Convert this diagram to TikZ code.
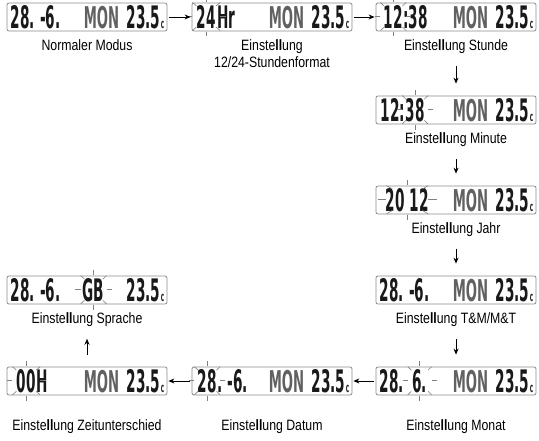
\documentclass[tikz,border=0pt]{standalone}
\usepackage{fontspec}
\setmainfont{Liberation Sans}[FakeStretch=0.82]
\newfontfamily\lcdface{DejaVu Sans}[FakeStretch=0.44]
\usetikzlibrary{arrows.meta}

% "Einstellung" as printed, with the heavy double l
\newcommand\einst{Einste{\bfseries ll}ung}

\tikzset{
  lcdwin/.style={draw=black!45, line width=0.8pt, rounded corners=2pt,
    minimum width=160pt, minimum height=28pt, inner sep=0pt, fill=white},
  seg/.style={font=\lcdface\bfseries\fontsize{31}{31}\selectfont, inner sep=0pt, text=black!90},
  thinseg/.style={font=\lcdface\bfseries\fontsize{30}{30}\selectfont, inner sep=0pt, text=black!62},
  unitseg/.style={font=\lcdface\bfseries\fontsize{13}{13}\selectfont, inner sep=0pt, text=black!85},
  caption/.style={font=\fontsize{15}{17}\selectfont, align=center, inner sep=0pt, anchor=north},
  ray/.style={draw=black!50, line width=0.6pt},
  flow/.style={draw, line width=0.9pt, -{Stealth[length=6pt,width=5pt]}},
  hflow/.style={flow, shorten <=2pt, shorten >=1pt},
  vflow/.style={flow, shorten <=12pt, shorten >=12pt},
}

% weekday and temperature on the right half of a display
\newcommand\montemp[1]{%
  \node[thinseg, anchor=base west] (#1mon) at ([xshift=77pt,yshift=-11pt]#1.west) {MON};
  \node[unitseg, anchor=base east] (#1unit) at ([xshift=-3pt,yshift=-11pt]#1.east) {c};
  \node[seg, anchor=base east] (#1temp) at (#1unit.base west) {23.5};
}
% flashing marks round a field: node name, x radius, y radius
\newcommand\blink[3]{%
  \foreach \a in {0,45,...,315}
    \draw[ray, shift={(#1.center)}] (\a:#2 and #3) -- (\a:{1.4*#2} and {1.33*#3});
}

\begin{document}
\begin{tikzpicture}[x=1pt,y=-1pt]
\useasboundingbox (0,0) rectangle (539,440);

% ---- top row
\node[lcdwin] (b1) at (87,17) {};
\node[seg, anchor=base west] (b1d) at ([xshift=4pt,yshift=-11pt]b1.west) {28.\,-6.};
\montemp{b1}

\node[lcdwin] (b2) at (272,17) {};
\node[seg, anchor=base west] (b2h) at ([xshift=5pt,yshift=-11pt]b2.west) {24};
\node[seg, anchor=base west] (b2r) at ([xshift=1pt]b2h.base east) {Hr};
\blink{b2h}{14}{15}
\montemp{b2}

\node[lcdwin] (b3) at (456,17) {};
\node[seg, anchor=base west] (b3h) at ([xshift=8pt,yshift=-11pt]b3.west) {12};
\node[seg, anchor=base west] (b3m) at (b3h.base east) {:38};
\blink{b3h}{13}{15}
\montemp{b3}

% ---- right column
\node[lcdwin] (b4) at (456,110) {};
\node[seg, anchor=base west] (b4h) at ([xshift=5pt,yshift=-11pt]b4.west) {12:};
\node[seg, anchor=base west] (b4m) at (b4h.base east) {38};
\blink{b4m}{13}{15}
\montemp{b4}

\node[lcdwin] (b5) at (456,200) {};
\node[seg, anchor=base west] (b5y) at ([xshift=10pt,yshift=-11pt]b5.west) {20\,12};
\blink{b5y}{21}{15}
\montemp{b5}

\node[lcdwin] (b6) at (456,290) {};
\node[seg, anchor=base west] (b6d) at ([xshift=4pt,yshift=-11pt]b6.west) {28.\,-6.};
\montemp{b6}

% ---- bottom row
\node[lcdwin] (b7) at (456,381) {};
\node[seg, anchor=base west] (b7d) at ([xshift=4pt,yshift=-11pt]b7.west) {28.};
\node[seg, anchor=base west] (b7m) at ([xshift=8pt]b7d.base east) {6.};
\blink{b7m}{12}{15}
\montemp{b7}

\node[lcdwin] (b8) at (272,381) {};
\node[seg, anchor=base west] (b8d) at ([xshift=6pt,yshift=-11pt]b8.west) {28};
\node[seg, anchor=base west] (b8m) at (b8d.base east) {.\,-6.};
\blink{b8d}{13}{15}
\montemp{b8}

\node[lcdwin] (b9) at (87,381) {};
\node[seg, anchor=base west] (b9z) at ([xshift=10pt,yshift=-11pt]b9.west) {00};
\node[seg, anchor=base west] (b9h) at (b9z.base east) {H};
\blink{b9z}{14}{15}
\montemp{b9}

% ---- left column
\node[lcdwin] (b10) at (87,290) {};
\node[seg, anchor=base west] (b10d) at ([xshift=4pt,yshift=-11pt]b10.west) {28.\,-6.};
\node[seg, anchor=base west] (b10l) at ([xshift=76pt,yshift=-11pt]b10.west) {GB};
\blink{b10l}{13}{15}
\node[unitseg, anchor=base east] (b10unit) at ([xshift=-3pt,yshift=-11pt]b10.east) {c};
\node[seg, anchor=base east] (b10temp) at (b10unit.base west) {23.5};

% ---- captions
\node[caption] (l1) at ([yshift=-8pt]b1.south) {Normaler Modus};
\node[caption] (l2) at ([yshift=-8pt]b2.south) {\einst\\12/24-Stundenformat};
\node[caption] (l3) at ([yshift=-8pt]b3.south) {\einst{} Stunde};
\node[caption] (l4) at ([yshift=-8pt]b4.south) {\einst{} Minute};
\node[caption] (l5) at ([yshift=-8pt]b5.south) {\einst{} Jahr};
\node[caption] (l6) at ([yshift=-8pt]b6.south) {\einst{} T\&M/M\&T};
\node[caption] (l7) at ([yshift=-24pt]b7.south) {\einst{} Monat};
\node[caption] (l8) at ([yshift=-24pt]b8.south) {\einst{} Datum};
\node[caption] (l9) at ([yshift=-24pt]b9.south) {\einst{} Zeitunterschied};
\node[caption] (l10) at ([yshift=-8pt]b10.south) {\einst{} Sprache};

% ---- sequence of the settings
\draw[hflow] (b1.east) -- (b2.west);
\draw[hflow] (b2.east) -- (b3.west);
\draw[vflow] (l3.south) -- (b4.north);
\draw[vflow] (l4.south) -- (b5.north);
\draw[vflow] (l5.south) -- (b6.north);
\draw[vflow] (l6.south) -- (b7.north);
\draw[hflow] (b7.west) -- (b8.east);
\draw[hflow] (b8.west) -- (b9.east);
\draw[vflow] (b9.north) -- (l10.south);
\end{tikzpicture}
\end{document}
